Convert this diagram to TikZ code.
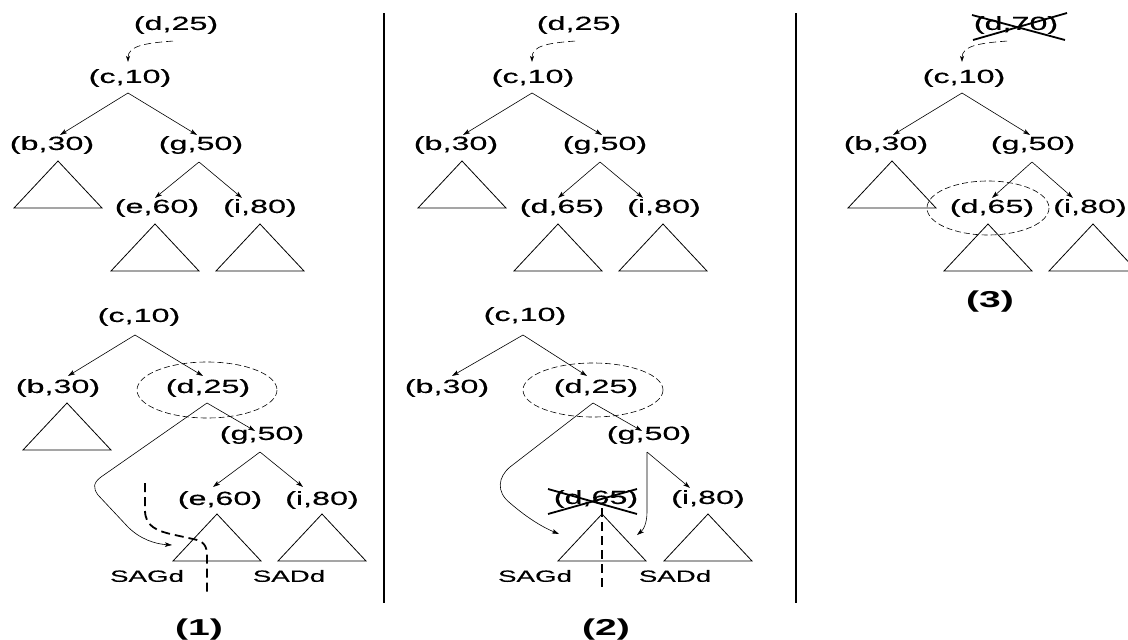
\documentclass[tikz,border=0pt]{standalone}
\usepackage{fontspec}
\newfontfamily\hv[FakeStretch=1.7,FakeBold=0.3]{Liberation Sans}
\newfontfamily\hvb[FakeStretch=1.7]{Liberation Sans Bold}
\usetikzlibrary{arrows.meta,calc}
\newcommand{\mytri}[2]{\draw[tri] (#1,#2) -- ++(-44,47) -- ++(88,0) -- cycle;}
\tikzset{
  txt/.style={inner sep=0pt, font=\hv\fontsize{19}{22}\selectfont},
  sub/.style={inner sep=0pt, font=\hv\fontsize{16.3}{19}\selectfont},
  lab/.style={inner sep=0pt, font=\hvb\fontsize{23}{26}\selectfont},
  arr/.style={-{Stealth[length=7pt,width=4.5pt,inset=1.5pt]}, line width=0.6pt},
  darr/.style={-{Stealth[length=6pt,width=4pt,inset=1.5pt]}, line width=0.6pt, dash pattern=on 7pt off 4pt},
  tri/.style={line width=0.8pt},
  ell/.style={line width=0.6pt, dash pattern=on 6pt off 3pt},
  thickdash/.style={line width=1.8pt, dash pattern=on 9pt off 5pt},
  cross/.style={line width=1.8pt},
  sep/.style={line width=2pt}
}
\begin{document}
\begin{tikzpicture}[x=1pt,y=-1pt]
\useasboundingbox (0,0) rectangle (1128,640);
\fill[white] (0,0) rectangle (1128,640);

% separators
\draw[sep] (384,13) -- (384,603);
\draw[sep] (796,13) -- (796,603);

%%%%%%%%%%%% Panel 1 top
\node[txt] (d1t) at (176,25) {(d,25)};
\node[txt] (c1t) at (130,78) {(c,10)};
\node[txt] (b1t) at (52,145) {(b,30)};
\node[txt] (g1t) at (201,145) {(g,50)};
\node[txt] (e1t) at (157,208) {(e,60)};
\node[txt] (i1t) at (260,208) {(i,80)};
\coordinate (c1tA) at (128,93);
\coordinate (g1tA) at (199,162);
\draw[darr] ([xshift=-3pt,yshift=-7pt]d1t.south) .. controls +(-28,2) and +(0,-16) .. ([xshift=-2pt,yshift=7pt]c1t.north);
\draw[arr] (c1tA) -- ([xshift=8pt,yshift=1pt]b1t.north);
\draw[arr] (c1tA) -- ([xshift=-4pt,yshift=1pt]g1t.north);
\draw[arr] (g1tA) -- ([xshift=-2pt,yshift=1pt]e1t.north);
\draw[arr] (g1tA) -- ([xshift=-18pt,yshift=1pt]i1t.north);
\mytri{58}{161}
\mytri{155}{224}
\mytri{260}{224}

%%%%%%%%%%%% Panel 1 bottom
\node[txt] (c1b) at (139,317) {(c,10)};
\node[txt] (b1b) at (58,388) {(b,30)};
\node[txt] (d1b) at (208,388) {(d,25)};
\node[txt] (g1b) at (262,435) {(g,50)};
\node[txt] (e1b) at (220,500) {(e,60)};
\node[txt] (i1b) at (322,500) {(i,80)};
\node[sub] (sag1) at (147,576) {SAGd};
\node[sub] (sad1) at (289,576) {SADd};
\node[lab] (l1) at (199,630) {(1)};
\coordinate (c1bA) at (135,335);
\coordinate (d1bA) at (207,403);
\coordinate (g1bA) at (260,452);
\coordinate (sag1T) at (172,545);
\draw[ell] (207,390) ellipse [x radius=70, y radius=28];
\draw[arr] (c1bA) -- ([xshift=10pt,yshift=3pt]b1b.north);
\draw[arr] (c1bA) -- ([xshift=-5pt,yshift=3pt]d1b.north);
\draw[arr] (d1bA) -- ([xshift=-7pt,yshift=-5pt]g1b.north);
\draw[arr] (g1bA) -- ([xshift=-7pt,yshift=4pt]e1b.north);
\draw[arr] (g1bA) -- ([xshift=-19pt,yshift=4pt]i1b.north);
\draw[arr] (d1bA) -- (101,477) .. controls (93,483) and (93,488) .. (98,495)
   -- (128,527) .. controls (140,539) and (155,544) .. (sag1T);
\mytri{67}{403}
\mytri{217}{514}
\mytri{322}{514}
\draw[thickdash] (145,483) -- (145,510) .. controls (145,526) and (156,531) .. (175,535)
   -- (193,539) .. controls (204,541) and (207,546) .. (207,556) -- (207,592);

%%%%%%%%%%%% Panel 2 top
\node[txt] (d2t) at (579,25) {(d,25)};
\node[txt] (c2t) at (533,78) {(c,10)};
\node[txt] (b2t) at (456,145) {(b,30)};
\node[txt] (g2t) at (605,145) {(g,50)};
\node[txt] (e2t) at (562,208) {(d,65)};
\node[txt] (i2t) at (664,208) {(i,80)};
\coordinate (c2tA) at (532,93);
\coordinate (g2tA) at (600,162);
\draw[darr] ([xshift=-4pt,yshift=-7pt]d2t.south) .. controls +(-28,2) and +(0,-16) .. ([xshift=-1pt,yshift=7pt]c2t.north);
\draw[arr] (c2tA) -- ([xshift=7pt,yshift=1pt]b2t.north);
\draw[arr] (c2tA) -- ([xshift=-3pt,yshift=1pt]g2t.north);
\draw[arr] (g2tA) -- ([xshift=-4pt,yshift=1pt]e2t.north);
\draw[arr] (g2tA) -- ([xshift=-21pt,yshift=1pt]i2t.north);
\mytri{462}{161}
\mytri{558}{224}
\mytri{663}{224}

%%%%%%%%%%%% Panel 2 bottom
\node[txt] (c2b) at (525,316) {(c,10)};
\node[txt] (b2b) at (447,388) {(b,30)};
\node[txt] (d2b) at (596,388) {(d,25)};
\node[txt] (g2b) at (649,435) {(g,50)};
\node[txt] (e2b) at (596,499) {(d,65)};
\node[txt] (i2b) at (708,499) {(i,80)};
\node[sub] (sag2) at (535,576) {SAGd};
\node[sub] (sad2) at (675,576) {SADd};
\node[lab] (l2) at (606,630) {(2)};
\coordinate (c2bA) at (523,335);
\coordinate (d2bA) at (593,403);
\coordinate (g2bA) at (647,452);
\coordinate (sag2T) at (559,534);
\coordinate (sad2T) at (637,535);
\draw[ell] (593,390) ellipse [x radius=70, y radius=27];
\draw[arr] (c2bA) -- ([xshift=5pt,yshift=3pt]b2b.north);
\draw[arr] (c2bA) -- ([xshift=-9pt,yshift=3pt]d2b.north);
\draw[arr] (d2bA) -- ([xshift=-7pt,yshift=-5pt]g2b.north);
\draw[arr] (g2bA) -- ([xshift=-18pt,yshift=2pt]i2b.north);
\draw[arr] (d2bA) -- (510,467) .. controls (498,477) and (496,492) .. (510,503)
   .. controls (525,516) and (540,526) .. (sag2T);
\draw[arr] (g2bA) -- (647,512) .. controls (647,524) and (643,530) .. (sad2T);
\draw[cross] ([shift={(-48pt,10pt)}]e2b.center) -- ([shift={(41pt,-15pt)}]e2b.center);
\draw[cross] ([shift={(-48pt,-15pt)}]e2b.center) -- ([shift={(41pt,10pt)}]e2b.center);
\mytri{602}{514}
\mytri{708}{514}
\draw[thickdash] (602,508) -- (602,590);

%%%%%%%%%%%% Panel 3
\node[txt] (d3t) at (1016,25) {(d,70)};
\node[txt] (c3t) at (964,78) {(c,10)};
\node[txt] (b3t) at (886,145) {(b,30)};
\node[txt] (g3t) at (1033,145) {(g,50)};
\node[txt] (e3t) at (992,208) {(d,65)};
\node[txt] (i3t) at (1090,208) {(i,80)};
\node[lab] (l3) at (990,302) {(3)};
\coordinate (c3tA) at (962,93);
\coordinate (g3tA) at (1032,162);
\draw[cross] ([shift={(-44pt,10pt)}]d3t.center) -- ([shift={(49pt,-15pt)}]d3t.center);
\draw[cross] ([shift={(-43pt,-15pt)}]d3t.center) -- ([shift={(51pt,12pt)}]d3t.center);
\draw[darr] ([xshift=-9pt,yshift=-7pt]d3t.south) .. controls +(-28,2) and +(0,-16) .. ([xshift=-2pt,yshift=7pt]c3t.north);
\draw[arr] (c3tA) -- ([xshift=7pt,yshift=1pt]b3t.north);
\draw[arr] (c3tA) -- ([xshift=-3pt,yshift=1pt]g3t.north);
\draw[arr] (g3tA) -- ([xshift=0pt,yshift=1pt]e3t.north);
\draw[arr] (g3tA) -- ([xshift=-17pt,yshift=1pt]i3t.north);
\draw[ell] (988,208) ellipse [x radius=61, y radius=27];
\mytri{892}{161}
\mytri{988}{224}
\mytri{1093}{224}
\end{tikzpicture}
\end{document}
